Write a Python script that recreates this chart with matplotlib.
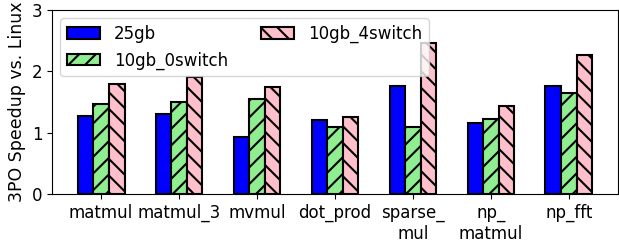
import numpy as np
import matplotlib
matplotlib.use("Agg")
import matplotlib.pyplot as plt

benchmarks = ["matmul", "matmul_3", "mvmul", "dot_prod", "sparse_\nmul", "np_\nmatmul", "np_fft"]
series = ["25gb", "10gb_0switch", "10gb_4switch"]
speedup_25gb = [1.27, 1.30, 0.93, 1.20, 1.76, 1.16, 1.76]
speedup_10gb_0switch = [1.47, 1.50, 1.55, 1.10, 1.10, 1.22, 1.64]
speedup_10gb_4switch = [1.80, 1.91, 1.75, 1.25, 2.47, 1.44, 2.27]

colors = ["blue", "lightgreen", "pink"]
hatches = ["", "//", "\\\\"]

plt.rcParams["font.size"] = 12
plt.rcParams["hatch.linewidth"] = 1.5

fig = plt.figure(figsize=(6.19, 2.45), dpi=100)
ax = fig.add_axes([52 / 619, 51 / 245, 566 / 619, 184 / 245])

x = np.arange(len(benchmarks))
w = 0.2
data = [speedup_25gb, speedup_10gb_0switch, speedup_10gb_4switch]
for i, (vals, name) in enumerate(zip(data, series)):
    ax.bar(x + (i - 1) * w, vals, w, color=colors[i], hatch=hatches[i],
           edgecolor="black", linewidth=1.5, label=name)

ax.set_xticks(x)
ax.set_xticklabels(benchmarks)
ax.set_ylim(0, 3)
ax.set_yticks([0, 1, 2, 3])
ax.set_ylabel("3PO Speedup vs. Linux", fontsize=12.5)
ax.legend(loc="upper left", ncol=2)

plt.savefig("out.png", dpi=100)
